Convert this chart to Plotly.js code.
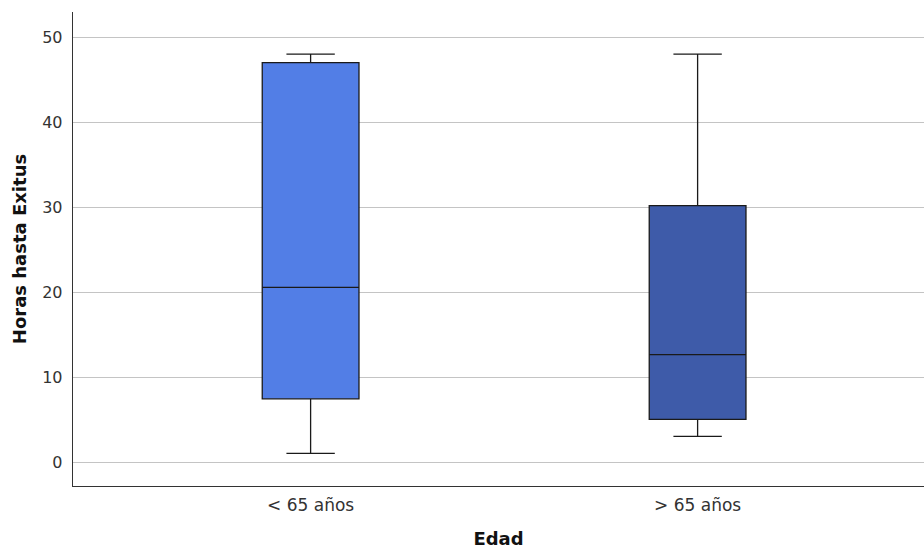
<!DOCTYPE html>
<html><head><meta charset="utf-8">
<script src="https://cdn.plot.ly/plotly-3.0.1.min.js"></script>
<style>html,body{margin:0;padding:0;background:#fff;overflow:hidden}</style>
</head><body>
<div id="chart" style="width:924px;height:549px"></div>
<script>
var categories = ['< 65 años', '> 65 años'];
var lowerWhisker = [1.1, 3.1];
var q1Values = [7.5, 5.1];
var medianValues = [20.6, 12.7];
var q3Values = [47.0, 30.2];
var upperWhisker = [48.0, 48.0];
var boxColors = ['#527ee6', '#3e5ba9'];
var yTicks = [0, 10, 20, 30, 40, 50];

var traces = categories.map(function(c, i){
  return {
    type: 'box',
    x: [c],
    q1: [q1Values[i]],
    median: [medianValues[i]],
    q3: [q3Values[i]],
    lowerfence: [lowerWhisker[i]],
    upperfence: [upperWhisker[i]],
    fillcolor: boxColors[i],
    line: {color: '#1a1a1a', width: 1.3},
    whiskerwidth: 0.5,
    width: 0.25,
    boxpoints: false,
    hoverinfo: 'skip',
    showlegend: false
  };
});

var layout = {
  width: 924, height: 549,
  margin: {l: 73, r: 0, t: 12, b: 63},
  paper_bgcolor: '#fff', plot_bgcolor: '#fff',
  boxmode: 'overlay',
  font: {family: 'DejaVu Sans, sans-serif', color: '#222'},
  xaxis: {
    type: 'category',
    range: [-0.614, 1.585],
    showline: true, linecolor: '#333', linewidth: 1.3,
    showgrid: false, zeroline: false, ticks: '',
    ticklabelstandoff: 3,
    tickfont: {size: 17, color: '#333'},
    title: {text: '<b>Edad</b>', font: {size: 18, color: '#111'}, standoff: 24}
  },
  yaxis: {
    range: [-2.74, 52.96],
    tickvals: yTicks,
    showline: true, linecolor: '#333', linewidth: 1.3,
    showgrid: true, gridcolor: '#c4c4c4', gridwidth: 1.2,
    zeroline: false, ticks: '', ticklabelstandoff: 6,
    tickfont: {size: 16, color: '#333'},
    title: {text: '<b>Horas hasta Exitus</b>', font: {size: 18, color: '#111'}, standoff: 10}
  }
};

Plotly.newPlot('chart', traces, layout, {displayModeBar: false, staticPlot: true});
</script>
</body></html>
